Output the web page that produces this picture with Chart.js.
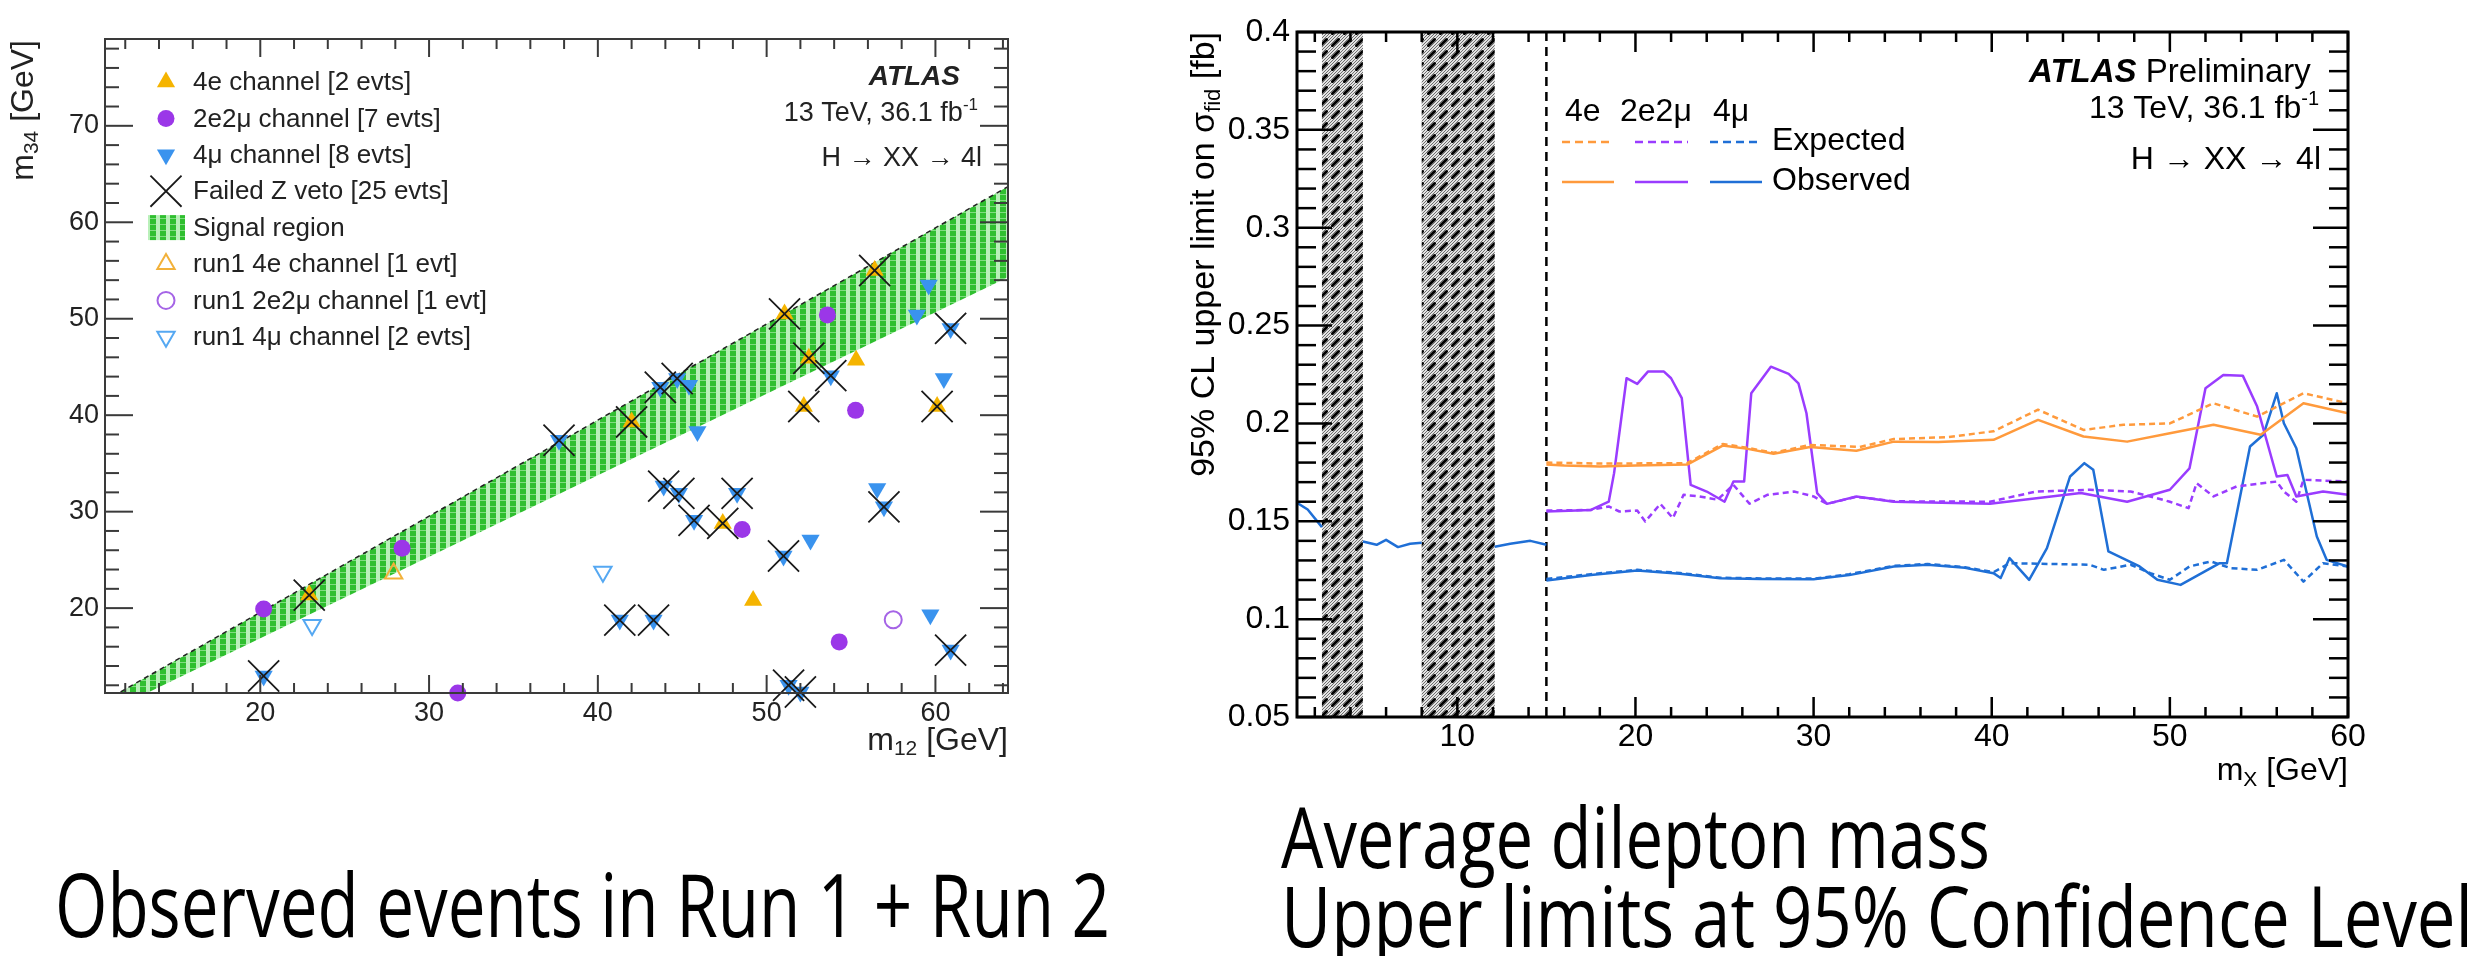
<!DOCTYPE html>
<html><head><meta charset="utf-8">
<script src="https://cdn.jsdelivr.net/npm/chart.js@4.4.1/dist/chart.umd.min.js"></script>
<style>
html,body{margin:0;padding:0;background:#fff;width:2486px;height:956px;overflow:hidden;position:relative}
canvas{position:absolute}
#c1{left:0;top:0}
#c2{left:1150px;top:0}
.cap{position:absolute;font-family:"Open Sans","Noto Sans",sans-serif;color:#000;white-space:nowrap;line-height:1;transform-origin:0 0}
</style></head><body>
<canvas id="c1" width="1060" height="780"></canvas>
<canvas id="c2" width="1336" height="800"></canvas>
<div class="cap" id="cap1">Observed events in Run 1 + Run 2</div>
<div class="cap" id="cap2">Average dilepton mass</div>
<div class="cap" id="cap3">Upper limits at 95% Confidence Level</div>
<script>
// ================= DATA : left plot (m12, m34 in GeV) =================
const run2_4eX = [49.2, 55.3];
const run2_4eY = [20.8, 45.7];
const run2_2e2muX = [20.2, 28.4, 31.7, 48.55, 54.3, 55.27, 53.6];
const run2_2e2muY = [19.9, 26.2, 11.2, 28.15, 16.5, 40.5, 50.4];
const run2_4muX = [59.6, 58.9, 60.5, 45.4, 45.9, 56.55, 52.6, 59.7];
const run2_4muY = [53.5, 50.4, 43.8, 43.1, 38.3, 32.4, 27.05, 19.3];
const vetoX = [20.2, 22.9, 37.7, 42.0, 43.7, 44.7, 51.06, 56.4, 52.5, 53.8, 60.9, 52.2, 60.1, 43.9, 44.8, 48.25, 45.7, 47.4, 51.0, 56.95, 41.3, 43.3, 60.9, 51.3, 52.0];
const vetoY = [12.96, 21.35, 37.4, 39.3, 42.9, 43.8, 50.5, 55.0, 45.9, 44.1, 49.0, 40.9, 40.9, 32.65, 31.9, 31.9, 29.1, 28.78, 25.4, 30.5, 18.76, 18.76, 15.65, 12.0, 11.3];
const vetoChannel = ['4mu','4e','4mu','4e','4mu','4mu','4e','4e','4e','4mu','4mu','4e','4e','4mu','4mu','4mu','4mu','4e','4mu','4mu','4mu','4mu','4mu','4mu','4mu'];
const run1_4eX = [27.9];
const run1_4eY = [23.6];
const run1_2e2muX = [57.5];
const run1_2e2muY = [18.8];
const run1_4muX = [23.07, 40.3];
const run1_4muY = [18.24, 23.77];
const bandX = [10.8, 64.3];
const bandUpper = [10.4, 63.7];
const bandLower = [9.1, 54.3];
const leftLegendLabels = ['4e channel [2 evts]', '2e2\u03bc channel [7 evts]', '4\u03bc channel [8 evts]', 'Failed Z veto [25 evts]', 'Signal region', 'run1 4e channel [1 evt]', 'run1 2e2\u03bc channel [1 evt]', 'run1 4\u03bc channel [2 evts]'];

// ================= DATA : right plot (m_X in GeV, limit in fb) =================
const obs4eX = [15, 16, 18, 20, 22.9, 24.9, 26.3, 27.75, 29.8, 32.4, 34.5, 37, 40.1, 42.6, 45.15, 47.6, 50.0, 52.45, 55.1, 57.5, 60];
const obs4eY = [0.179, 0.1785, 0.178, 0.1785, 0.179, 0.1887, 0.187, 0.1845, 0.188, 0.186, 0.1907, 0.1905, 0.1916, 0.2018, 0.1933, 0.1907, 0.195, 0.1993, 0.1942, 0.2103, 0.2052];
const exp4eX = [15, 18, 22.9, 24.9, 26.3, 27.75, 29.8, 32.6, 34.5, 37.5, 40.1, 42.6, 45.15, 47.4, 50.0, 52.45, 54.9, 57.5, 60];
const exp4eY = [0.1800, 0.1795, 0.1797, 0.1895, 0.1875, 0.1850, 0.1890, 0.1880, 0.1920, 0.1930, 0.1960, 0.2070, 0.1967, 0.1993, 0.2000, 0.2103, 0.2035, 0.2154, 0.2103];
const obs2e2muX = [15, 17.5, 18.5, 18.8, 19.5, 20.1, 20.7, 21.6, 22.0, 22.6, 23.1, 24.0, 25.0, 25.5, 26.1, 26.5, 27.6, 28.6, 29.15, 29.6, 30.2, 30.75, 32.4, 34.5, 39.9, 45.0, 47.6, 50.0, 51.1, 52.0, 53.0, 54.1, 54.9, 56.0, 56.6, 57.1, 58.6, 60];
const obs2e2muY = [0.155, 0.1558, 0.160, 0.1746, 0.2231, 0.2202, 0.2265, 0.2265, 0.2231, 0.2129, 0.1686, 0.1652, 0.160, 0.1703, 0.1703, 0.2154, 0.229, 0.2253, 0.2205, 0.2052, 0.1644, 0.1589, 0.1627, 0.160, 0.159, 0.1644, 0.160, 0.1661, 0.177, 0.218, 0.2248, 0.2243, 0.2086, 0.1729, 0.1737, 0.1627, 0.1652, 0.1635];
const exp2e2muX = [15, 17.5, 18.5, 19.1, 20.1, 20.55, 21.4, 22.1, 22.7, 23.6, 24.6, 25.5, 26.4, 27.4, 28.9, 30.0, 30.75, 32.4, 34.5, 39.9, 42.5, 45.5, 47.8, 48.9, 50.0, 51.05, 51.5, 52.45, 53.75, 56.0, 56.4, 57.1, 57.5, 60];
const exp2e2muY = [0.1555, 0.1558, 0.1576, 0.155, 0.1555, 0.1499, 0.1589, 0.1516, 0.1635, 0.1627, 0.161, 0.1686, 0.159, 0.1635, 0.1652, 0.1627, 0.1589, 0.1625, 0.1602, 0.160, 0.1652, 0.1661, 0.1652, 0.1627, 0.160, 0.1567, 0.1695, 0.1627, 0.1678, 0.1703, 0.1652, 0.160, 0.1712, 0.1703];
const obs4muX = [15, 17.5, 20.1, 22.5, 24.75, 27, 30, 32, 34.5, 36.4, 38.5, 40.1, 40.5, 41.0, 42.1, 43.1, 44.4, 45.2, 45.7, 46.55, 48.3, 49.3, 50.6, 52.8, 53.2, 54.5, 55.25, 56.0, 56.4, 57.1, 58.25, 58.8, 60];
const obs4muY = [0.1198, 0.1225, 0.1249, 0.1232, 0.1209, 0.1205, 0.1204, 0.1225, 0.1269, 0.1278, 0.1262, 0.1235, 0.121, 0.1312, 0.1201, 0.1363, 0.1729, 0.1797, 0.1763, 0.1346, 0.1269, 0.1201, 0.1175, 0.1286, 0.1286, 0.1882, 0.1942, 0.2154, 0.2001, 0.1873, 0.1422, 0.1303, 0.1269];
const exp4muX = [15, 17.5, 20.1, 22.5, 24.75, 27, 30, 32, 34.5, 36.4, 38.5, 40.1, 41.0, 42.7, 45.5, 46.3, 47.8, 48.9, 50.0, 51.1, 52.3, 53.4, 54.9, 56.4, 57.5, 58.6, 60];
const exp4muY = [0.1205, 0.1230, 0.1252, 0.1236, 0.1212, 0.1208, 0.1207, 0.1230, 0.1272, 0.1282, 0.1265, 0.1240, 0.1286, 0.1283, 0.1278, 0.1252, 0.1278, 0.1235, 0.1201, 0.1269, 0.1295, 0.1261, 0.1252, 0.1303, 0.1192, 0.1286, 0.1269];
const lowMass4muX = [1, 1.6, 2.4, 3.5, 4.7, 5.47, 6.0, 6.67, 7.35, 8.0, 10, 12.1, 12.97, 14.1, 15];
const lowMass4muY = [0.1595, 0.156, 0.147, null, 0.1397, 0.138, 0.1405, 0.1368, 0.1385, 0.139, null, 0.137, 0.1385, 0.140, 0.138];
const vetoRegions = [[2.4, 4.7], [8.0, 12.1]];
const boundaryX = 15;
const channelLabels = ['4e', '2e2\u03bc', '4\u03bc'];

// ================= STYLE =================
const FONT = '"Liberation Sans", Arial, Helvetica, sans-serif';
Chart.defaults.font.family = FONT;
const C4E = '#f5b400', C2E2MU = '#9b37e8', C4MU = '#3a93ee';
const L4E = '#ff9a3c', L2E2MU = '#9a3cff', L4MU = '#1f6fd6';

function pts(X, Y) { return X.map((x, i) => ({x: x, y: Y[i]})); }

function rootTicks(cfg) {
  return {
    id: 'rootTicks',
    afterDatasetsDraw(chart) {
      const ctx = chart.ctx, a = chart.chartArea, xs = chart.scales.x, ys = chart.scales.y;
      ctx.save();
      ctx.strokeStyle = cfg.color; ctx.lineWidth = cfg.tickWidth; ctx.setLineDash([]);
      const line = (x1, y1, x2, y2) => { ctx.beginPath(); ctx.moveTo(x1, y1); ctx.lineTo(x2, y2); ctx.stroke(); };
      const isMajor = (v, M) => Math.abs(v / M - Math.round(v / M)) < 1e-6;
      for (let k = Math.ceil(xs.min / cfg.xMinor - 1e-9); k * cfg.xMinor <= xs.max + 1e-9; k++) {
        const v = k * cfg.xMinor, px = xs.getPixelForValue(v);
        const L = isMajor(v, cfg.xMajor) ? cfg.xMajorLen : cfg.xMinorLen;
        line(px, a.bottom, px, a.bottom - L); line(px, a.top, px, a.top + L);
      }
      for (let k = Math.ceil(ys.min / cfg.yMinor - 1e-9); k * cfg.yMinor <= ys.max + 1e-9; k++) {
        const v = k * cfg.yMinor, py = ys.getPixelForValue(v);
        const L = isMajor(v, cfg.yMajor) ? cfg.yMajorLen : cfg.yMinorLen;
        line(a.left, py, a.left + L, py); line(a.right, py, a.right - L, py);
      }
      ctx.lineWidth = cfg.frameWidth;
      ctx.strokeRect(a.left, a.top, a.right - a.left, a.bottom - a.top);
      ctx.restore();
    }
  };
}

function drawMarker(ctx, m, x, y) {
  ctx.save();
  ctx.fillStyle = m.fill; ctx.strokeStyle = m.stroke; ctx.lineWidth = m.bw;
  if (Chart.helpers && Chart.helpers.drawPoint) {
    Chart.helpers.drawPoint(ctx, {pointStyle: m.style, rotation: m.rot || 0, radius: m.r, borderWidth: m.bw}, x, y);
  }
  ctx.restore();
}

function textSup(ctx, main, sup, xRight, base, size, supSize) {
  ctx.font = size + 'px ' + FONT;
  const w1 = ctx.measureText(main).width;
  ctx.font = supSize + 'px ' + FONT;
  const w2 = ctx.measureText(sup).width;
  ctx.textAlign = 'left';
  ctx.font = size + 'px ' + FONT;
  ctx.fillText(main, xRight - w1 - w2, base);
  ctx.font = supSize + 'px ' + FONT;
  ctx.fillText(sup, xRight - w2, base - size * 0.42);
}

// draws a run of [text, size, baselineShift] parts ending at xEnd (local coords), middle baseline
function drawParts(ctx, parts, xEnd, y) {
  ctx.textBaseline = 'middle'; ctx.textAlign = 'left';
  let W = 0;
  const ws = parts.map(p => { ctx.font = p[1] + 'px ' + FONT; const w = ctx.measureText(p[0]).width; W += w; return w; });
  let xx = xEnd - W;
  parts.forEach((p, i) => { ctx.font = p[1] + 'px ' + FONT; ctx.fillText(p[0], xx, y + p[2]); xx += ws[i]; });
}
function drawVTitle(ctx, parts, cx, topY) {
  ctx.save(); ctx.translate(cx, topY); ctx.rotate(-Math.PI / 2);
  drawParts(ctx, parts, 0, 0);
  ctx.restore();
}

// ================= LEFT CHART =================
const c1 = document.getElementById('c1');
const ctx1 = c1.getContext('2d');
const gtile = document.createElement('canvas'); gtile.width = 10; gtile.height = 6;
const gt = gtile.getContext('2d');
gt.fillStyle = '#b9f0b9'; gt.fillRect(0, 0, 10, 6);
gt.fillStyle = '#2fbf2f'; gt.fillRect(0, 0, 6, 6);
gt.fillStyle = '#7fdc7f'; gt.fillRect(0, 2, 6, 1);
const greenPattern = ctx1.createPattern(gtile, 'repeat');

const mk = {
  e4: {style: 'triangle', r: 10.5, fill: C4E, stroke: C4E, bw: 0, rot: 0},
  mix: {style: 'circle', r: 8.5, fill: C2E2MU, stroke: C2E2MU, bw: 0, rot: 0},
  mu4: {style: 'triangle', r: 10.5, fill: C4MU, stroke: C4MU, bw: 0, rot: 180},
  veto: {style: 'crossRot', r: 22, fill: 'rgba(0,0,0,0)', stroke: '#1a1a1a', bw: 1.8, rot: 0},
  r1e4: {style: 'triangle', r: 10, fill: 'rgba(0,0,0,0)', stroke: '#f2b13a', bw: 2, rot: 0},
  r1mix: {style: 'circle', r: 8.5, fill: 'rgba(0,0,0,0)', stroke: '#a564e6', bw: 2, rot: 0},
  r1mu4: {style: 'triangle', r: 10, fill: 'rgba(0,0,0,0)', stroke: '#55a8f2', bw: 2, rot: 180}
};
function markerDs(label, data, m, order) {
  return {label: label, data: data, pointStyle: m.style, pointRotation: m.rot, pointRadius: m.r,
    pointBackgroundColor: m.fill, pointBorderColor: m.stroke, pointBorderWidth: m.bw,
    backgroundColor: m.fill, borderColor: m.stroke, borderWidth: m.bw, clip: false, order: order};
}
const vetoE = vetoX.map((x, i) => ({x: x, y: vetoY[i], c: vetoChannel[i]})).filter(p => p.c === '4e');
const vetoM = vetoX.map((x, i) => ({x: x, y: vetoY[i], c: vetoChannel[i]})).filter(p => p.c === '4mu');

const leftLegend = {
  id: 'leftLegend',
  afterDraw(chart) {
    const ctx = chart.ctx, a = chart.chartArea;
    const marks = [mk.e4, mk.mix, mk.mu4, mk.veto, null, mk.r1e4, mk.r1mix, mk.r1mu4];
    ctx.save();
    leftLegendLabels.forEach((t, i) => {
      const y = 82 + i * 36.4;
      if (marks[i]) drawMarker(ctx, marks[i], 166, y);
      else { ctx.fillStyle = greenPattern; ctx.fillRect(148, y - 12.5, 37, 25); }
      ctx.fillStyle = '#222'; ctx.font = '26px ' + FONT; ctx.textAlign = 'left'; ctx.textBaseline = 'middle';
      ctx.fillText(t, 193, y + 1);
    });
    ctx.textBaseline = 'alphabetic'; ctx.fillStyle = '#222';
    ctx.font = 'italic bold 28px ' + FONT; ctx.textAlign = 'right';
    ctx.fillText('ATLAS', 960, 85);
    textSup(ctx, '13 TeV, 36.1 fb', '-1', 978, 121, 27, 17);
    ctx.font = '27px ' + FONT; ctx.textAlign = 'right';
    ctx.fillText('H \u2192 XX \u2192 4l', 982, 166);
    // axis titles (with real subscripts)
    ctx.fillStyle = '#222';
    drawParts(ctx, [['m', 32, 0], ['12', 21, 8], [' [GeV]', 32, 0]], a.right, 741);
    drawVTitle(ctx, [['m', 32, 0], ['34', 21, 8], [' [GeV]', 32, 0]], 24, a.top + 1);
    ctx.restore();
  }
};

new Chart(c1, {
  type: 'scatter',
  data: {datasets: [
    {label: 'band-lower', data: pts(bandX, bandLower), showLine: true, borderColor: 'rgba(0,0,0,0)', borderWidth: 1, pointRadius: 0, fill: false, order: 20},
    {label: 'Signal region', data: pts(bandX, bandUpper), showLine: true, borderColor: '#222', borderWidth: 1.5, borderDash: [5, 4], pointRadius: 0, fill: '-1', backgroundColor: greenPattern, order: 20},
    markerDs('veto 4e marker', vetoE, mk.e4, 6),
    markerDs('veto 4mu marker', vetoM, mk.mu4, 6),
    markerDs(leftLegendLabels[0], pts(run2_4eX, run2_4eY), mk.e4, 5),
    markerDs(leftLegendLabels[1], pts(run2_2e2muX, run2_2e2muY), mk.mix, 5),
    markerDs(leftLegendLabels[2], pts(run2_4muX, run2_4muY), mk.mu4, 5),
    markerDs(leftLegendLabels[5], pts(run1_4eX, run1_4eY), mk.r1e4, 5),
    markerDs(leftLegendLabels[6], pts(run1_2e2muX, run1_2e2muY), mk.r1mix, 5),
    markerDs(leftLegendLabels[7], pts(run1_4muX, run1_4muY), mk.r1mu4, 5),
    markerDs(leftLegendLabels[3], pts(vetoX, vetoY), mk.veto, 1)
  ]},
  options: {
    responsive: false, animation: false, events: [], devicePixelRatio: 1,
    layout: {padding: {left: 0, right: 52, top: 39, bottom: 0}},
    plugins: {legend: {display: false}, tooltip: {enabled: false}},
    scales: {
      x: {type: 'linear', min: 10.8, max: 64.3,
        grid: {display: false, drawTicks: false}, border: {display: false},
        ticks: {stepSize: 10, includeBounds: false, autoSkip: false, maxRotation: 0, color: '#222', font: {size: 27}, padding: 4},
        afterFit(s) { s.height = 87; }},
      y: {type: 'linear', min: 11.2, max: 79,
        grid: {display: false, drawTicks: false}, border: {display: false},
        ticks: {stepSize: 10, includeBounds: false, autoSkip: false, color: '#222', font: {size: 27}, padding: 6},
        afterFit(s) { s.width = 105; }}
    }
  },
  plugins: [rootTicks({color: '#3a3a3a', tickWidth: 2, frameWidth: 2, xMinor: 2, xMajor: 10, yMinor: 2, yMajor: 10, xMajorLen: 18, xMinorLen: 10, yMajorLen: 28, yMinorLen: 14}), leftLegend]
});

// ================= RIGHT CHART =================
const c2 = document.getElementById('c2');
const ctx2 = c2.getContext('2d');
const htile = document.createElement('canvas'); htile.width = 12; htile.height = 12;
const ht = htile.getContext('2d');
ht.fillStyle = '#e2e2e2'; ht.fillRect(0, 0, 12, 12);
ht.strokeStyle = '#6e6e6e'; ht.lineWidth = 1;
for (let o = -12; o < 24; o += 3) { ht.beginPath(); ht.moveTo(o, 12); ht.lineTo(o + 12, 0); ht.stroke(); }
ht.strokeStyle = '#000'; ht.lineWidth = 3; ht.lineCap = 'round';
ht.beginPath(); ht.moveTo(2.5, 9.5); ht.lineTo(8.5, 3.5); ht.stroke();
const hatchPattern = ctx2.createPattern(htile, 'repeat');

const hatchPlugin = {
  id: 'hatch',
  beforeDatasetsDraw(chart) {
    const ctx = chart.ctx, a = chart.chartArea, xs = chart.scales.x;
    ctx.save();
    vetoRegions.forEach(r => {
      const x1 = xs.getPixelForValue(r[0]), x2 = xs.getPixelForValue(r[1]);
      ctx.fillStyle = hatchPattern; ctx.fillRect(x1, a.top, x2 - x1, a.bottom - a.top);
    });
    const bx = xs.getPixelForValue(boundaryX);
    ctx.strokeStyle = '#000'; ctx.lineWidth = 2.5; ctx.setLineDash([9, 6]);
    ctx.beginPath(); ctx.moveTo(bx, a.top); ctx.lineTo(bx, a.bottom); ctx.stroke();
    ctx.restore();
  }
};

const rightText = {
  id: 'rightText',
  afterDraw(chart) {
    const ctx = chart.ctx, a = chart.chartArea;
    ctx.save();
    ctx.fillStyle = '#000';
    // axis titles
    drawVTitle(ctx, [['95% CL upper limit on \u03c3', 34, 0], ['fid', 22, 9], [' [fb]', 34, 0]], 55, a.top);
    drawParts(ctx, [['m', 32, 0], ['X', 21, 9], [' [GeV]', 32, 0]], a.right, 771);
    ctx.textBaseline = 'alphabetic';
    // ATLAS label
    ctx.textAlign = 'left';
    ctx.font = 'italic bold 33px ' + FONT;
    ctx.fillText('ATLAS', 879, 82);
    const wA = ctx.measureText('ATLAS ').width;
    ctx.font = '33px ' + FONT;
    ctx.fillText('Preliminary', 879 + wA, 82);
    textSup(ctx, '13 TeV, 36.1 fb', '-1', 1169, 118, 32, 20);
    ctx.font = '32px ' + FONT; ctx.textAlign = 'right';
    ctx.fillText('H \u2192 XX \u2192 4l', 1171, 169);
    // legend
    ctx.textAlign = 'left'; ctx.font = '32px ' + FONT;
    ctx.fillText(channelLabels[0], 415, 121);
    ctx.fillText(channelLabels[1], 470, 121);
    ctx.fillText(channelLabels[2], 563, 121);
    const cols = [[L4E, 412, 464], [L2E2MU, 485, 538], [L4MU, 560, 612]];
    ctx.lineWidth = 2.5;
    cols.forEach(c => {
      ctx.strokeStyle = c[0];
      ctx.setLineDash([8, 5]); ctx.beginPath(); ctx.moveTo(c[1], 142); ctx.lineTo(c[2], 142); ctx.stroke();
      ctx.setLineDash([]); ctx.beginPath(); ctx.moveTo(c[1], 182); ctx.lineTo(c[2], 182); ctx.stroke();
    });
    ctx.fillStyle = '#000';
    ctx.fillText('Expected', 622, 150);
    ctx.fillText('Observed', 622, 190);
    ctx.restore();
  }
};

function lineDs(label, X, Y, color, dashed) {
  return {label: label, data: pts(X, Y), showLine: true, borderColor: color, borderWidth: 2.5,
    borderDash: dashed ? [6, 4] : [], pointRadius: 0, fill: false, spanGaps: false, tension: 0, borderJoinStyle: 'round'};
}

new Chart(c2, {
  type: 'scatter',
  data: {datasets: [
    lineDs('4e expected', exp4eX, exp4eY, L4E, true),
    lineDs('4e observed', obs4eX, obs4eY, L4E, false),
    lineDs('2e2\u03bc expected', exp2e2muX, exp2e2muY, L2E2MU, true),
    lineDs('2e2\u03bc observed', obs2e2muX, obs2e2muY, L2E2MU, false),
    lineDs('4\u03bc expected', exp4muX, exp4muY, L4MU, true),
    lineDs('4\u03bc observed', obs4muX, obs4muY, L4MU, false),
    lineDs('4\u03bc low mass', lowMass4muX, lowMass4muY, L4MU, false)
  ]},
  options: {
    responsive: false, animation: false, events: [], devicePixelRatio: 1,
    layout: {padding: {left: 0, right: 138, top: 32, bottom: 0}},
    plugins: {legend: {display: false}, tooltip: {enabled: false}},
    scales: {
      x: {type: 'linear', min: 1, max: 60,
        grid: {display: false, drawTicks: false}, border: {display: false},
        ticks: {stepSize: 10, includeBounds: false, autoSkip: false, maxRotation: 0, color: '#000', font: {size: 32}, padding: 1},
        afterFit(s) { s.height = 83; }},
      y: {type: 'linear', min: 0.05, max: 0.4,
        grid: {display: false, drawTicks: false}, border: {display: false},
        ticks: {stepSize: 0.05, autoSkip: false, color: '#000', font: {size: 32}, padding: 7,
          callback: v => String(Math.round(v * 100) / 100)},
        afterFit(s) { s.width = 147; }}
    }
  },
  plugins: [hatchPlugin, rootTicks({color: '#000', tickWidth: 2.5, frameWidth: 3, xMinor: 2, xMajor: 10, yMinor: 0.01, yMajor: 0.05, xMajorLen: 20, xMinorLen: 10, yMajorLen: 35, yMinorLen: 19}), rightText]
});

// ================= CAPTIONS =================
function fitCap(id, fs, left, baseline, targetW) {
  const el = document.getElementById(id);
  el.style.transform = 'none';
  el.style.fontSize = fs + 'px';
  el.style.left = left + 'px';
  el.style.top = (baseline - 0.888 * fs) + 'px';
  const w = el.getBoundingClientRect().width;
  el.style.transform = 'scaleX(' + (targetW / w) + ')';
}
function layoutCaps() {
  fitCap('cap1', 88, 55, 937, 1055);
  fitCap('cap2', 84, 1281, 869, 709);
  fitCap('cap3', 84, 1281, 948, 1192);
}
layoutCaps();
if (document.fonts && document.fonts.ready) document.fonts.ready.then(layoutCaps);
</script>
</body></html>
